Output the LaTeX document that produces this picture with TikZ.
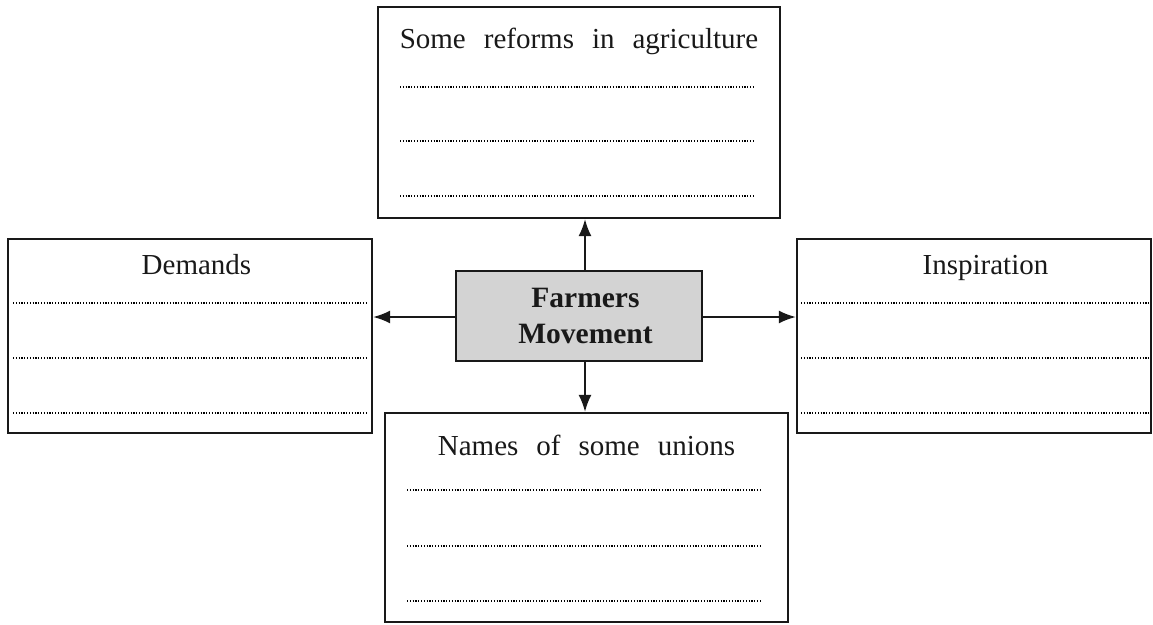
\documentclass[tikz,border=0pt]{standalone}
\usepackage{fontspec}
\setmainfont{Liberation Serif}
\usetikzlibrary{arrows.meta}
\definecolor{boxgray}{HTML}{D3D3D3}
\newcommand{\headfont}{\fontsize{29}{36}\selectfont\spaceskip=18pt plus 2pt minus 2pt\relax}
\tikzset{
  panel/.style={draw=black!90, line width=2.2pt, inner sep=0pt, fill=white},
  hub/.style={draw=black!90, line width=2.2pt, inner sep=0pt, fill=boxgray},
  heading/.style={anchor=base, inner sep=0pt, font=\headfont, text=black!90},
  hubtext/.style={inner sep=0pt, align=center, text=black!90,
    font=\fontsize{29.5}{36}\selectfont\bfseries},
  writeline/.style={line width=1.4pt, dash pattern=on 1.2pt off 1.6pt, black},
  link/.style={line width=2pt, black!90, -{Latex[length=17pt,width=13pt]}}
}
\begin{document}
\begin{tikzpicture}[x=1pt, y=-1pt]
\useasboundingbox (0,0) rectangle (1153,624);

% boxes
\node[panel, minimum width=402pt, minimum height=211pt] (reforms) at (579,112.5) {};
\node[panel, minimum width=364pt, minimum height=194pt] (demands) at (190,336) {};
\node[panel, minimum width=354pt, minimum height=194pt] (inspire) at (974,336) {};
\node[panel, minimum width=403pt, minimum height=209pt] (unions) at (586.5,517.5) {};
\node[hub, minimum width=246pt, minimum height=90pt] (farmers) at (579,316) {};

% headings
\node[heading] (treforms) at (579,48) {Some reforms in agriculture};
\node[heading] (tdemands) at (196.5,274) {Demands};
\node[heading] (tinspire) at (985.5,274) {Inspiration};
\node[heading] (tunions) at (586.5,455) {Names of some unions};
\node[hubtext] (tfarmers) at (585.5,316) {Farmers\\Movement};

% lines to write on
\foreach \y in {87,141,196} \draw[writeline] (400,\y) -- (755,\y);
\foreach \y in {303,358,413} \draw[writeline] (13,\y) -- (368,\y);
\foreach \y in {303,358,413} \draw[writeline] (801,\y) -- (1150,\y);
\foreach \y in {490,546,601} \draw[writeline] (407,\y) -- (762,\y);

% connectors
\coordinate (vx) at (585,0);
\coordinate (hy) at (0,317);
\draw[link] (farmers.north -| vx) -- (reforms.south -| vx);
\draw[link] (farmers.south -| vx) -- (unions.north -| vx);
\draw[link] (farmers.west |- hy) -- (demands.east |- hy);
\draw[link] (farmers.east |- hy) -- (inspire.west |- hy);
\end{tikzpicture}
\end{document}
